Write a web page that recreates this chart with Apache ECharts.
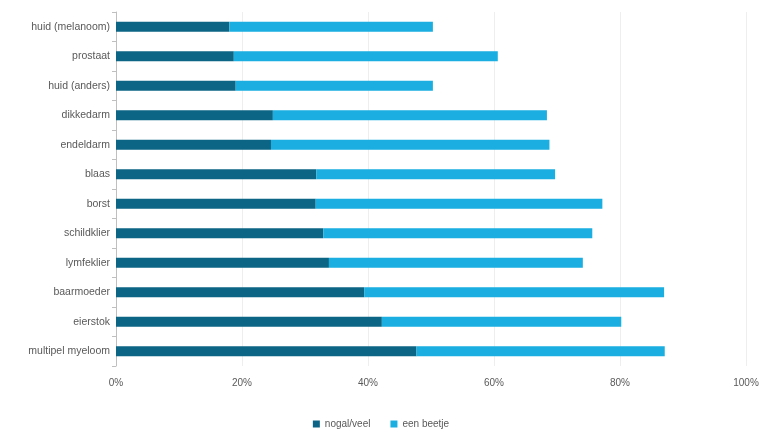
<!DOCTYPE html>
<html><head><meta charset="utf-8">
<script src="https://cdn.jsdelivr.net/npm/echarts@6/dist/echarts.min.js"></script>
<style>html,body{margin:0;padding:0;background:#fff}#c{width:762px;height:431px}</style>
</head><body><div id="c"></div>
<script>
const categories = ['huid (melanoom)','prostaat','huid (anders)','dikkedarm','endeldarm','blaas','borst','schildklier','lymfeklier','baarmoeder','eierstok','multipel myeloom'];
const nogalVeel = [18.0,18.7,19.0,24.9,24.6,31.8,31.7,32.9,33.8,39.4,42.2,47.7];
const eenBeetje = [32.3,41.9,31.3,43.5,44.2,37.9,45.5,42.7,40.3,47.6,38.0,39.4];
const xTicks = [0,20,40,60,80,100];

const chart = echarts.init(document.getElementById('c'));
chart.setOption({
  animation:false,
  textStyle:{fontFamily:'Liberation Sans, Arial, sans-serif'},
  grid:{left:116,right:16,top:12,bottom:65,containLabel:false},
  legend:{top:414,left:'center',itemWidth:7,itemHeight:7,itemGap:20,icon:'rect',
    textStyle:{fontSize:10,color:'#595959'},data:['nogal/veel','een beetje']},
  xAxis:{type:'value',min:xTicks[0],max:xTicks[xTicks.length-1],interval:20,
    axisLabel:{formatter:'{value}%',fontSize:10,color:'#595959',margin:12},
    axisLine:{show:false},axisTick:{show:false},
    splitLine:{lineStyle:{color:'#eeeeee',width:1}}},
  yAxis:{type:'category',data:categories,inverse:true,
    axisLine:{lineStyle:{color:'#bfbfbf'}},
    axisTick:{show:true,length:4,lineStyle:{color:'#bfbfbf'}},
    axisLabel:{fontSize:10.5,color:'#595959',margin:6}},
  series:[
    {name:'nogal/veel',type:'bar',stack:'t',data:nogalVeel,barWidth:10,itemStyle:{color:'#0c6585'}},
    {name:'een beetje',type:'bar',stack:'t',data:eenBeetje,barWidth:10,itemStyle:{color:'#1aaee1'}}
  ]
});
</script></body></html>
